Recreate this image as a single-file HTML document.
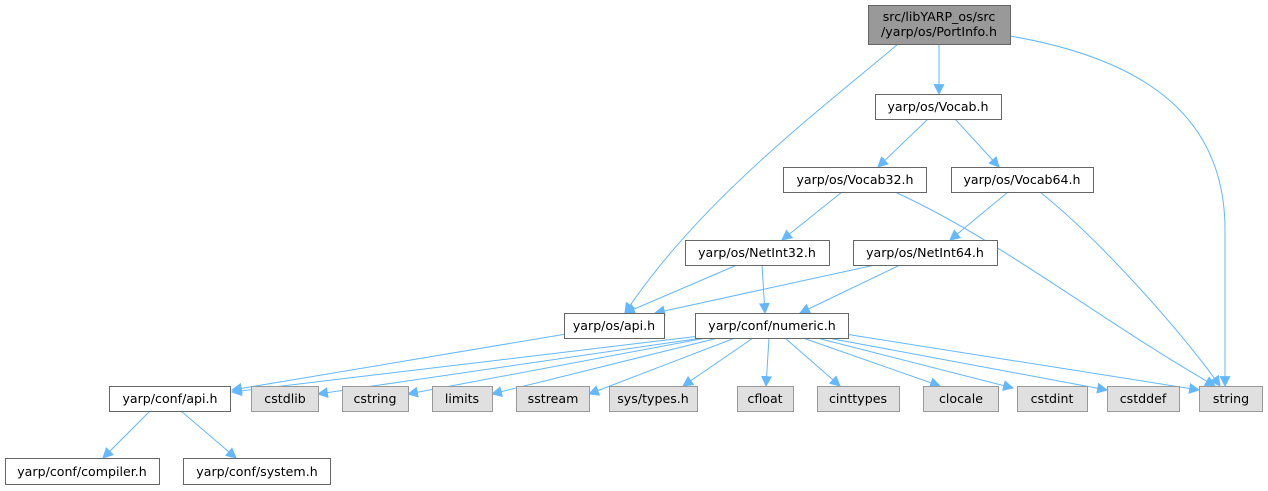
<!DOCTYPE html>
<html><head><meta charset="utf-8"><style>
html,body{margin:0;padding:0;background:#fff;width:1268px;height:491px;overflow:hidden}
text{font-family:"DejaVu Sans","Liberation Sans",sans-serif;font-size:12.6px;fill:#000}
</style></head><body>
<svg width="1268" height="491" viewBox="0 0 1268 491" xmlns="http://www.w3.org/2000/svg">
<defs><marker id="a" viewBox="0 0 10 10" refX="9" refY="5" markerWidth="11" markerHeight="11" markerUnits="userSpaceOnUse" orient="auto"><path d="M0,0 L10,5 L0,10 z" fill="#63b8ff"/></marker></defs>
<g fill="none" stroke="#63b8ff" stroke-width="1" marker-end="url(#a)">
<path d="M939,44 L939,94"/>
<path d="M898,44 C820,110 700,200 625,313"/>
<path d="M1010,36 C1150,60 1225,120 1225,230 L1225,386"/>
<path d="M928,119 L878,167"/>
<path d="M955,119 L999,167"/>
<path d="M842,192 L782,240"/>
<path d="M895,192 C1000,240 1100,320 1215,386"/>
<path d="M1008,192 L950,240"/>
<path d="M1040,192 C1100,240 1180,330 1220,386"/>
<path d="M737,265 L625,313"/>
<path d="M762,265 L765,313"/>
<path d="M875,265 L655,313"/>
<path d="M900,265 L800,313"/>
<path d="M572,333 L232,390"/>
<path d="M700,336 L232,392"/>
<path d="M702,338 L318,394"/>
<path d="M706,338 L408,394"/>
<path d="M718,338 L492,394"/>
<path d="M735,338 L589,394"/>
<path d="M753,338 L683,386"/>
<path d="M769,338 L766,386"/>
<path d="M785,338 L840,386"/>
<path d="M803,338 L940,386"/>
<path d="M817,338 L1013,388"/>
<path d="M828,338 L1107,390"/>
<path d="M845,334 L1199,390"/>
<path d="M150,411 L103,458"/>
<path d="M181,411 L236,458"/>
</g>
<g stroke-width="1">
<rect x="868.5" y="5.5" width="142" height="39" fill="#999" stroke="#666"/>
<rect x="875.5" y="94.5" width="126" height="25" fill="#fff" stroke="#666"/>
<rect x="783.5" y="167.5" width="143" height="25" fill="#fff" stroke="#666"/>
<rect x="951.5" y="167.5" width="142" height="25" fill="#fff" stroke="#666"/>
<rect x="685.5" y="240.5" width="144" height="25" fill="#fff" stroke="#666"/>
<rect x="853.5" y="240.5" width="144" height="25" fill="#fff" stroke="#666"/>
<rect x="564.5" y="313.5" width="100" height="25" fill="#fff" stroke="#666"/>
<rect x="695.5" y="313.5" width="153" height="25" fill="#fff" stroke="#666"/>
<rect x="109.5" y="386.5" width="121" height="25" fill="#fff" stroke="#666"/>
<g fill="#e0e0e0" stroke="#999">
<rect x="251.5" y="386.5" width="67" height="25"/>
<rect x="342.5" y="386.5" width="66" height="25"/>
<rect x="432.5" y="386.5" width="60" height="25"/>
<rect x="516.5" y="386.5" width="73" height="25"/>
<rect x="609.5" y="386.5" width="88" height="25"/>
<rect x="737.5" y="386.5" width="56" height="25"/>
<rect x="817.5" y="386.5" width="82" height="25"/>
<rect x="923.5" y="386.5" width="75" height="25"/>
<rect x="1017.5" y="386.5" width="70" height="25"/>
<rect x="1107.5" y="386.5" width="72" height="25"/>
<rect x="1199.5" y="386.5" width="63" height="25"/>
</g>
<rect x="5.5" y="458.5" width="154" height="26" fill="#fff" stroke="#666"/>
<rect x="183.5" y="458.5" width="147" height="26" fill="#fff" stroke="#666"/>
</g>
<g text-anchor="middle">
<text x="939" y="21">src/libYARP_os/src</text>
<text x="939" y="36">/yarp/os/PortInfo.h</text>
<text x="938" y="111">yarp/os/Vocab.h</text>
<text x="855" y="184">yarp/os/Vocab32.h</text>
<text x="1022" y="184">yarp/os/Vocab64.h</text>
<text x="757" y="257">yarp/os/NetInt32.h</text>
<text x="925" y="257">yarp/os/NetInt64.h</text>
<text x="614" y="330">yarp/os/api.h</text>
<text x="772" y="330">yarp/conf/numeric.h</text>
<text x="170" y="403">yarp/conf/api.h</text>
<text x="285" y="403">cstdlib</text>
<text x="375" y="403">cstring</text>
<text x="462" y="403">limits</text>
<text x="553" y="403">sstream</text>
<text x="653" y="403">sys/types.h</text>
<text x="765" y="403">cfloat</text>
<text x="858" y="403">cinttypes</text>
<text x="961" y="403">clocale</text>
<text x="1052" y="403">cstdint</text>
<text x="1143" y="403">cstddef</text>
<text x="1231" y="403">string</text>
<text x="82" y="476">yarp/conf/compiler.h</text>
<text x="257" y="476">yarp/conf/system.h</text>
</g>
</svg>
</body></html>
